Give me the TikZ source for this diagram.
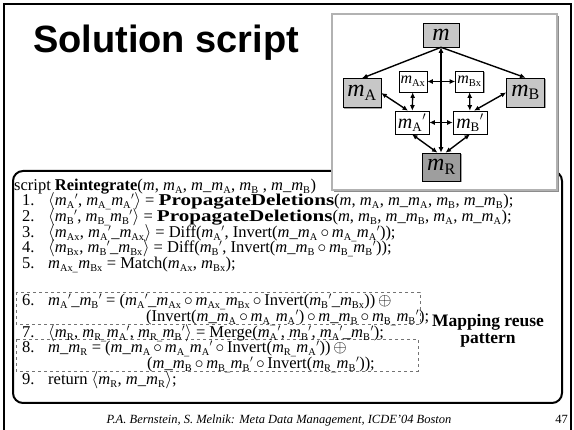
\documentclass[tikz,border=0pt]{standalone}
\usepackage{fontspec}
\setmainfont{Liberation Serif}
\newfontfamily\titlefont{Liberation Sans}
\newfontface\widebold{Liberation Serif Bold}[FakeStretch=1.28]
\usetikzlibrary{arrows.meta,shadows}

\DeclareMathSizes{16.5}{16.5}{10.3}{8}
\DeclareMathSizes{24}{24}{16}{12}
\DeclareMathSizes{16}{16}{10.5}{8}
\DeclareMathSizes{20}{20}{13}{10}

\newcommand{\mi}{\textit{m}}
\newcommand{\ms}[1]{\textit{m}\textsubscript{#1}}
\newcommand{\pr}{\ensuremath{'}}
\newcommand{\cmp}{\,\ensuremath{\circ}\,}
\newcommand{\osum}{\ensuremath{\oplus}}
\newcommand{\op}[1]{{\widebold #1}}

\tikzset{
  code/.style={anchor=base west, inner sep=0pt, font=\fontsize{16.5}{16.5}\selectfont},
  mapbox/.style={draw=black, line width=0.6pt, inner sep=0pt,
    drop shadow={shadow xshift=1.2pt, shadow yshift=-1.2pt, opacity=0.6, fill=black!60}},
  topmap/.style={mapbox, fill=black!22, minimum width=36pt, minimum height=24pt, font=\fontsize{24}{24}\selectfont},
  sidemap/.style={mapbox, fill=black!22, minimum width=38pt, minimum height=29pt, font=\fontsize{24}{24}\selectfont},
  resmap/.style={mapbox, fill=black!38, minimum width=38pt, minimum height=28pt, font=\fontsize{24}{24}\selectfont},
  diffmap/.style={mapbox, fill=white, minimum width=28pt, minimum height=21pt, font=\fontsize{16}{16}\selectfont},
  primemap/.style={mapbox, fill=white, minimum width=34pt, minimum height=23pt, font=\fontsize{20}{20}\selectfont},
  link/.style={line width=1.4pt, {Latex[length=5.5pt,width=5pt]}-{Latex[length=5.5pt,width=5pt]}},
  feed/.style={line width=1.4pt, -{Latex[length=5.5pt,width=5pt]}},
  snippet/.style={draw=black!55, dashed, line width=0.5pt},
}

\begin{document}
\begin{tikzpicture}[x=1pt, y=-1pt]
\useasboundingbox (0,0) rectangle (574,430);

% slide frame and script panel
\draw[line width=2pt] (4,430) -- (4,4) -- (571,4) -- (571,430);
\draw[line width=2pt, rounded corners=10pt] (13,171) rectangle (562,403);
\draw[snippet] (16,292) rectangle (420,324);
\draw[snippet] (16,339) rectangle (418,371);

\node[anchor=base west, inner sep=0pt, font=\titlefont\bfseries\fontsize{38}{38}\selectfont] (title) at (33,53) {Solution script};

% inset with the mappings
\draw[draw=black!30, line width=1.5pt, fill=white,
  drop shadow={shadow xshift=2pt, shadow yshift=-2pt, opacity=1, fill=black!45}] (332,14) rectangle (557,190);

\node[topmap] (m) at (441,35) {\mi};
\node[sidemap] (mA) at (362,93) {\ms{A}};
\node[sidemap] (mB) at (525.5,92.5) {\ms{B}};
\node[diffmap] (mAx) at (413,81.5) {\ms{Ax}};
\node[diffmap] (mBx) at (469.5,81.5) {\ms{Bx}};
\node[primemap] (mAp) at (412,122.5) {\ms{A}\pr};
\node[primemap] (mBp) at (470,122.5) {\ms{B}\pr};
\node[resmap] (mR) at (441.5,167) {\ms{R}};

\draw[feed] (m.south) -- (mA.north);
\draw[feed] (m.south) -- (mB.north);
\draw[link] (m.south) -- (m.south |- mR.north);
\draw[link] (mAx.east) -- (mBx.west);
\draw[link] (mAx) -- (mAp);
\draw[link] (mBx) -- (mBp);
\draw[link] (mAp) -- (mBp);
\draw[link] (mA.east) -- ([xshift=-4pt]mAp.north);
\draw[link] (mB.west) -- ([xshift=4pt]mBp.north);
\draw[link] (mAp.south) -- ([xshift=-4pt]mR.north);
\draw[link] (mBp.south) -- ([xshift=4pt]mR.north);

% the script
\node[code] (head) at (14,190.5) {script \textbf{Reintegrate}(\mi, \ms{A}, \mi\_\ms{A}, \ms{B} , \mi\_\ms{B})};
\node[code] (n1) at (22,206) {1.};
\node[code] (l1) at (48,206) {$\langle$\ms{A}\pr, \ms{A\_}\ms{A}\pr$\rangle$ = \op{PropagateDeletions}(\mi, \ms{A}, \mi\_\ms{A}, \ms{B}, \mi\_\ms{B});};
\node[code] (n2) at (22,222) {2.};
\node[code] (l2) at (48,222) {$\langle$\ms{B}\pr, \ms{B\_}\ms{B}\pr$\rangle$ = \op{PropagateDeletions}(\mi, \ms{B}, \mi\_\ms{B}, \ms{A}, \mi\_\ms{A});};
\node[code] (n3) at (22,238) {3.};
\node[code] (l3) at (48,238) {$\langle$\ms{Ax}, \ms{A}\pr\_\ms{Ax}$\rangle$ = Diff(\ms{A}\pr, Invert(\mi\_\ms{A}\cmp\ms{A\_}\ms{A}\pr));};
\node[code] (n4) at (22,253) {4.};
\node[code] (l4) at (48,253) {$\langle$\ms{Bx}, \ms{B}\pr\_\ms{Bx}$\rangle$ = Diff(\ms{B}\pr, Invert(\mi\_\ms{B}\cmp\ms{B\_}\ms{B}\pr));};
\node[code] (n5) at (22,269) {5.};
\node[code] (l5) at (48,269) {\ms{Ax\_}\ms{Bx} = Match(\ms{Ax}, \ms{Bx});};
\node[code] (n6) at (22,305.5) {6.};
\node[code] (l6) at (48,305.5) {\ms{A}\pr\_\ms{B}\pr{} = (\ms{A}\pr\_\ms{Ax}\cmp\ms{Ax\_}\ms{Bx}\cmp Invert(\ms{B}\pr\_\ms{Bx}))\,\osum};
\node[code] (l6b) at (146,321.5) {(Invert(\mi\_\ms{A}\cmp\ms{A\_}\ms{A}\pr)\cmp\mi\_\ms{B}\cmp\ms{B\_}\ms{B}\pr);};
\node[code] (n7) at (22,337.5) {7.};
\node[code] (l7) at (48,337.5) {$\langle$\ms{R}, \ms{R\_}\ms{A}\pr, \ms{R\_}\ms{B}\pr$\rangle$ = Merge(\ms{A}\pr, \ms{B}\pr, \ms{A}\pr\_\ms{B}\pr);};
\node[code] (n8) at (22,352.5) {8.};
\node[code] (l8) at (48,352.5) {\mi\_\ms{R} = (\mi\_\ms{A}\cmp\ms{A\_}\ms{A}\pr\cmp Invert(\ms{R\_}\ms{A}\pr))\,\osum};
\node[code] (l8b) at (147,368.5) {(\mi\_\ms{B}\cmp\ms{B\_}\ms{B}\pr\cmp Invert(\ms{R\_}\ms{B}\pr));};
\node[code] (n9) at (22,384.5) {9.};
\node[code] (l9) at (48,384.5) {return $\langle$\ms{R}, \mi\_\ms{R}$\rangle$;};

\node[align=center, font=\bfseries\fontsize{17.5}{17}\selectfont] (note) at (488,330.5) {Mapping reuse\\pattern};

\node[anchor=base, inner sep=0pt, font=\itshape\fontsize{12.5}{12.5}\selectfont] (foot) at (279,424) {P.A. Bernstein, S. Melnik: Meta Data Management, ICDE'04 Boston};
\node[anchor=base east, inner sep=0pt, font=\fontsize{12.5}{12.5}\selectfont] (page) at (568,424) {47};
\end{tikzpicture}
\end{document}
